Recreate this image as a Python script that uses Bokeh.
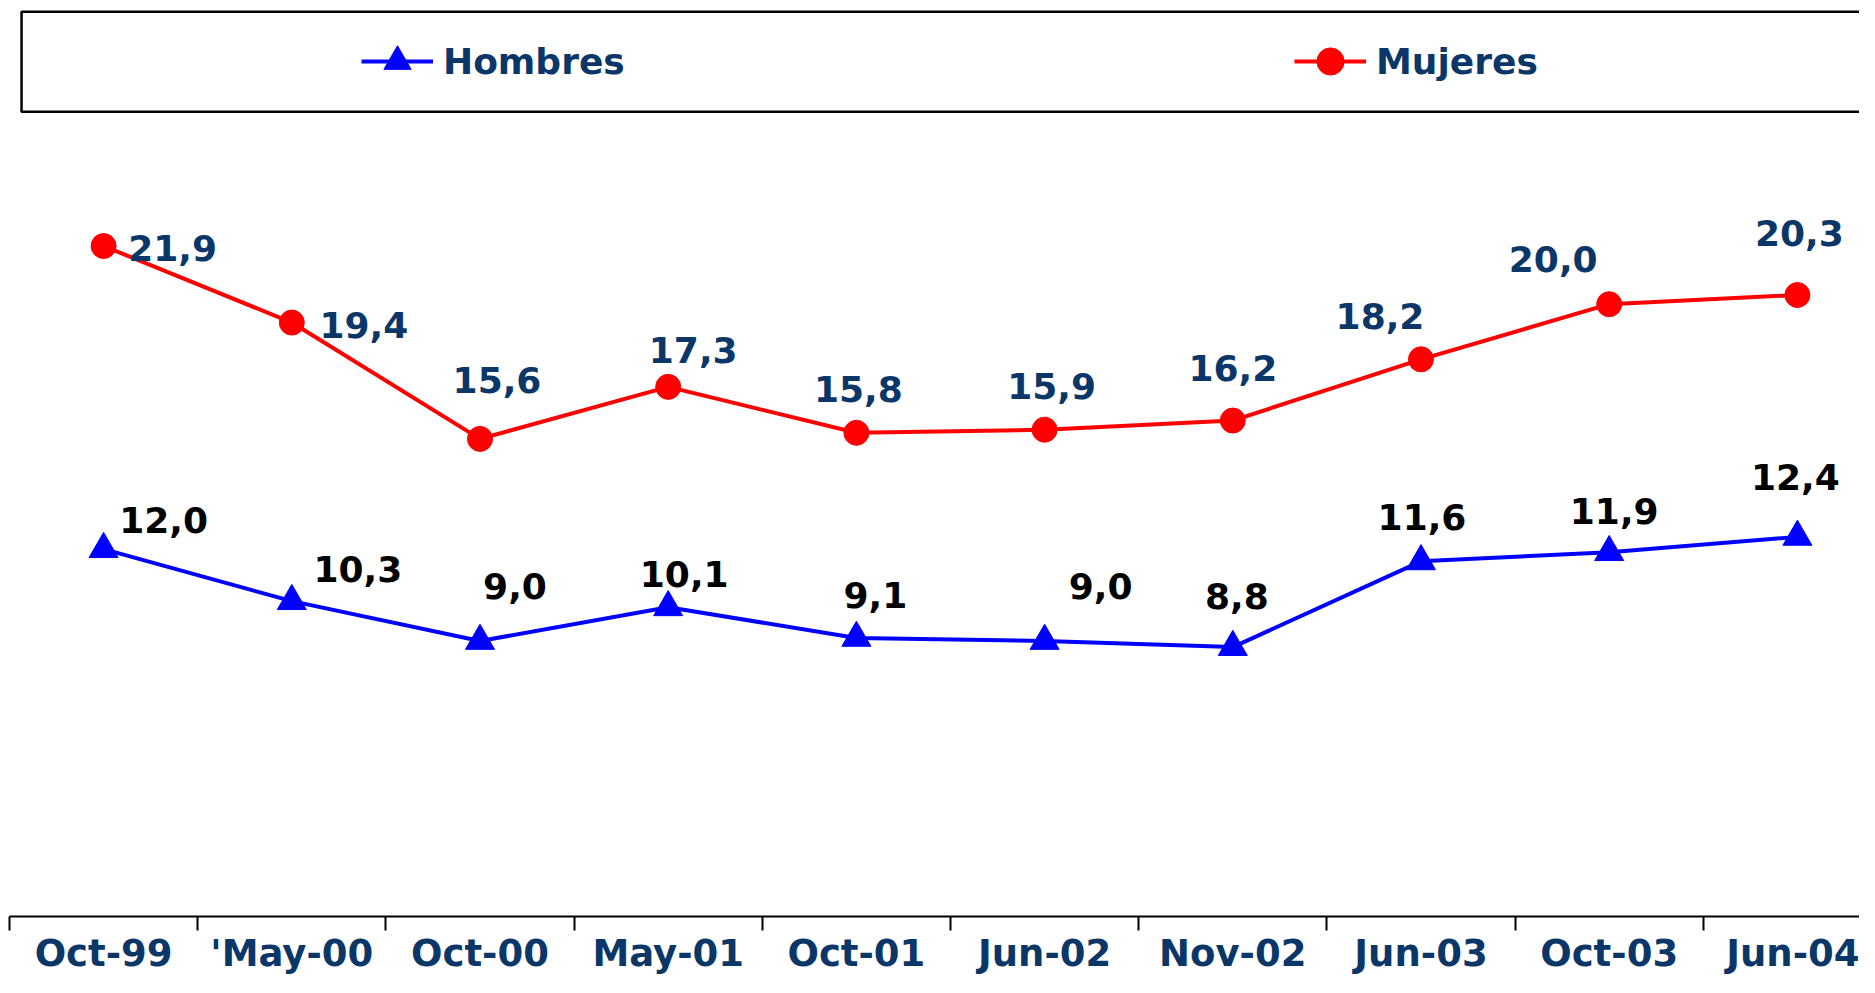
from bokeh.plotting import figure
from bokeh.models import Range1d, FixedTicker, Legend, LegendItem, BoxAnnotation, ColumnDataSource
from bokeh.core.properties import value
from bokeh.embed import file_html
from bokeh.resources import INLINE

# ---- data ----
categories = ["Oct-99", "'May-00", "Oct-00", "May-01", "Oct-01",
              "Jun-02", "Nov-02", "Jun-03", "Oct-03", "Jun-04"]
hombres = [12.0, 10.3, 9.0, 10.1, 9.1, 9.0, 8.8, 11.6, 11.9, 12.4]
mujeres = [21.9, 19.4, 15.6, 17.3, 15.8, 15.9, 16.2, 18.2, 20.0, 20.3]

# ---- label placement (pixel offsets, style only) ----
muj_dx = [69, 72, 17, 25, 2, 7, 0, -41, -56, 2]
muj_dy = [2, 2, -59, -37, -44, -44, -53, -43, -45, -62]
hom_dx = [60, 66, 35, 16, 19, 56, 4, 1, 5, -2]
hom_dy = [-29, -32, -55, -33, -43, -55, -51, -44, -41, -60]

NAVY = "#0B3768"
xs = list(range(len(categories)))


def fmt(v):
    return f"{v:.1f}".replace(".", ",")


p = figure(width=1859, height=977,
           x_range=Range1d(-0.5, 9.33), y_range=Range1d(0, 29.92),
           output_backend="svg", toolbar_location=None,
           y_axis_location=None,
           min_border_left=9, min_border_right=0,
           min_border_top=0, min_border_bottom=0)
p.grid.visible = False
p.outline_line_color = None
p.background_fill_color = "white"

# x axis: category labels at centres, tick marks at boundaries
ax = p.xaxis[0]
ax.ticker = FixedTicker(ticks=xs, minor_ticks=[i - 0.5 for i in range(len(categories) + 1)])
ax.major_label_overrides = {i: c for i, c in enumerate(categories)}
ax.major_tick_out = 0
ax.major_tick_in = 0
ax.minor_tick_out = 14
ax.minor_tick_in = 0
ax.minor_tick_line_color = "black"
ax.minor_tick_line_width = 2
ax.axis_line_color = "black"
ax.axis_line_width = 2
ax.major_label_standoff = 1
ax.major_label_text_font = "DejaVu Sans"
ax.major_label_text_font_style = "bold"
ax.major_label_text_font_size = "37px"
ax.major_label_text_color = NAVY

# legend frame
p.add_layout(BoxAnnotation(left=-0.436, right=9.45, top=29.55, bottom=26.29,
                           fill_alpha=0, line_color="black", line_alpha=1, line_width=2.5))

# series
hl = p.line(xs, hombres, line_color="#0000FF", line_width=4)
hm = p.scatter(xs, hombres, marker="triangle", size=29, fill_color="#0000FF", line_color="#0000FF")
ml = p.line(xs, mujeres, line_color="#FF0000", line_width=4)
mm = p.scatter(xs, mujeres, marker="circle", size=25, fill_color="#FF0000", line_color="#FF0000")

# data labels
src_m = ColumnDataSource(dict(x=xs, y=mujeres, t=[fmt(v) for v in mujeres], dx=muj_dx, dy=muj_dy))
src_h = ColumnDataSource(dict(x=xs, y=hombres, t=[fmt(v) for v in hombres], dx=hom_dx, dy=hom_dy))
p.text(x="x", y="y", text="t", x_offset="dx", y_offset="dy", source=src_m,
       text_align="center", text_baseline="middle", text_color=NAVY,
       text_font=value("DejaVu Sans"), text_font_style="bold", text_font_size="36px")
p.text(x="x", y="y", text="t", x_offset="dx", y_offset="dy", source=src_h,
       text_align="center", text_baseline="middle", text_color="black",
       text_font=value("DejaVu Sans"), text_font_style="bold", text_font_size="36px")

legend = Legend(items=[LegendItem(label="Hombres", renderers=[hl, hm]),
                       LegendItem(label="Mujeres", renderers=[ml, mm])],
                location=(352, 821), orientation="horizontal",
                padding=0, margin=0, spacing=651, label_width=200,
                glyph_width=72, glyph_height=68, label_height=68, label_standoff=10,
                border_line_alpha=0, background_fill_alpha=0,
                label_text_font="DejaVu Sans", label_text_font_style="bold",
                label_text_font_size="36px", label_text_color=NAVY,
                label_text_baseline="middle")
p.add_layout(legend)

open("out.html", "w").write(file_html(p, INLINE))
